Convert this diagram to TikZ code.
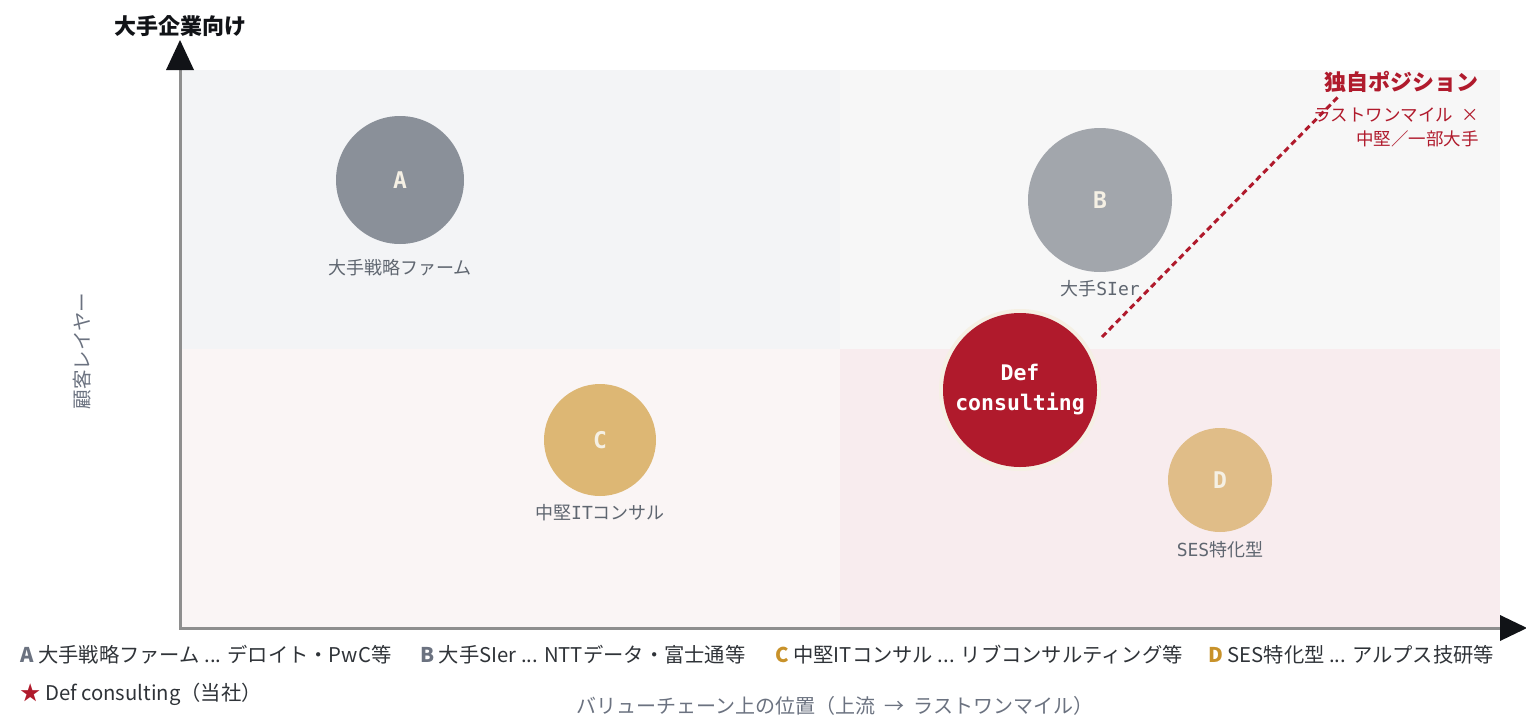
\documentclass[tikz,border=0pt]{standalone}
\usepackage{fontspec}
\setmainfont{Noto Sans CJK JP}
\newfontfamily\monofont{DejaVu Sans Mono}
\definecolor{qTL}{HTML}{F3F4F6}
\definecolor{qTR}{HTML}{F7F7F7}
\definecolor{qBL}{HTML}{FAF5F5}
\definecolor{qBR}{HTML}{F8ECEE}
\definecolor{axisgray}{HTML}{8E8E8E}
\definecolor{ink}{HTML}{111317}
\definecolor{txt}{HTML}{2F3338}
\definecolor{subgray}{HTML}{5F6670}
\definecolor{cA}{HTML}{8A9099}
\definecolor{cB}{HTML}{A2A6AC}
\definecolor{cC}{HTML}{DDB774}
\definecolor{cD}{HTML}{E0BD88}
\definecolor{defred}{HTML}{B01A2C}
\definecolor{cream}{HTML}{F5F0E4}
\definecolor{gold}{HTML}{C8922A}
\definecolor{leggray}{HTML}{6B7280}
\tikzset{
  bubble/.style={circle, inner sep=0pt, text=cream, font=\monofont\bfseries\fontsize{23}{27}\selectfont},
  sub/.style={text=subgray, font=\fontsize{18}{21}\selectfont},
  leg/.style={anchor=west, text=txt, font=\fontsize{20.3}{24}\selectfont, inner sep=0pt},
  note/.style={anchor=east, text=defred, inner sep=0pt},
}
\begin{document}
\begin{tikzpicture}[x=1pt,y=-1pt]
\useasboundingbox (0,0) rectangle (1526,718);
% quadrants
\fill[qTL] (180,70) rectangle (840,349);
\fill[qTR] (840,70) rectangle (1500,349);
\fill[qBL] (180,349) rectangle (840,628);
\fill[qBR] (840,349) rectangle (1500,628);
% axes
\coordinate (o) at (180,628);
\coordinate (ytop) at (180,70);
\coordinate (xend) at (1500,628);
\draw[axisgray, line width=3pt] (ytop) -- (o) -- (xend);
\fill[ink] (166,70) -- (194,70) -- (180,40) -- cycle;
\fill[ink] (1500,615) -- (1500,641) -- (1527,628) -- cycle;
\node[text=ink, font=\bfseries\fontsize{22}{26}\selectfont] (ytitle) at (180,26) {大手企業向け};
\node[text=leggray, rotate=90, font=\fontsize{19.5}{22}\selectfont] (ylab) at (82,351) {顧客レイヤー};
% dashed link
\coordinate (dashA) at (1102,337);
\coordinate (dashB) at (1338,97);
\draw[defred, line width=3pt, dash pattern=on 6pt off 4pt] (dashA) -- (dashB);
% bubbles
\node[bubble, fill=cA, minimum size=128pt] (A) at (400,180) {A};
\node[bubble, fill=cB, minimum size=144pt] (B) at (1100,200) {B};
\node[bubble, fill=cC, minimum size=112pt] (C) at (600,440) {C};
\node[bubble, fill=cD, minimum size=104pt] (D) at (1220,480) {D};
\node[circle, fill=cream, minimum size=162pt, inner sep=0pt] (Dring) at (1020,390) {};
\node[circle, fill=defred, minimum size=154pt, inner sep=0pt, align=center, text=white,
      font=\monofont\bfseries\fontsize{21.5}{30}\selectfont] (Def) at (1020,390) {Def\\consulting};
% sub labels
\node[sub] (la) at (400,268) {大手戦略ファーム};
\node[sub] (lb) at (1100,289) {大手{\monofont SIer}};
\node[sub] (lc) at (600,513) {中堅{\monofont IT}コンサル};
\node[sub] (ld) at (1220,550) {{\monofont SES}特化型};
% note
\node[note, font=\bfseries\fontsize{22}{26}\selectfont] (n1) at (1479,82) {独自ポジション};
\node[note, font=\fontsize{17.5}{20}\selectfont] (n2) at (1479,115) {ラストワンマイル\ \ ×};
\node[note, font=\fontsize{17.5}{20}\selectfont] (n3) at (1479,139) {中堅／一部大手};
% legend
\node[leg] (legA) at (20,655) {{\bfseries\color{leggray}A} 大手戦略ファーム ... デロイト・PwC等};
\node[leg] (legB) at (420,655) {{\bfseries\color{leggray}B} 大手SIer ... NTTデータ・富士通等};
\node[leg] (legC) at (775,655) {{\bfseries\color{gold}C} 中堅ITコンサル ... リブコンサルティング等};
\node[leg] (legD) at (1208,655) {{\bfseries\color{gold}D} SES特化型 ... アルプス技研等};
\node[leg] (legS) at (20,694) {{\color{defred}★} Def consulting（当社）};
\node[text=leggray, font=\fontsize{20}{23}\selectfont] (xlab) at (835,706) {バリューチェーン上の位置（上流\ \ →\ \ ラストワンマイル）};
\end{tikzpicture}
\end{document}
